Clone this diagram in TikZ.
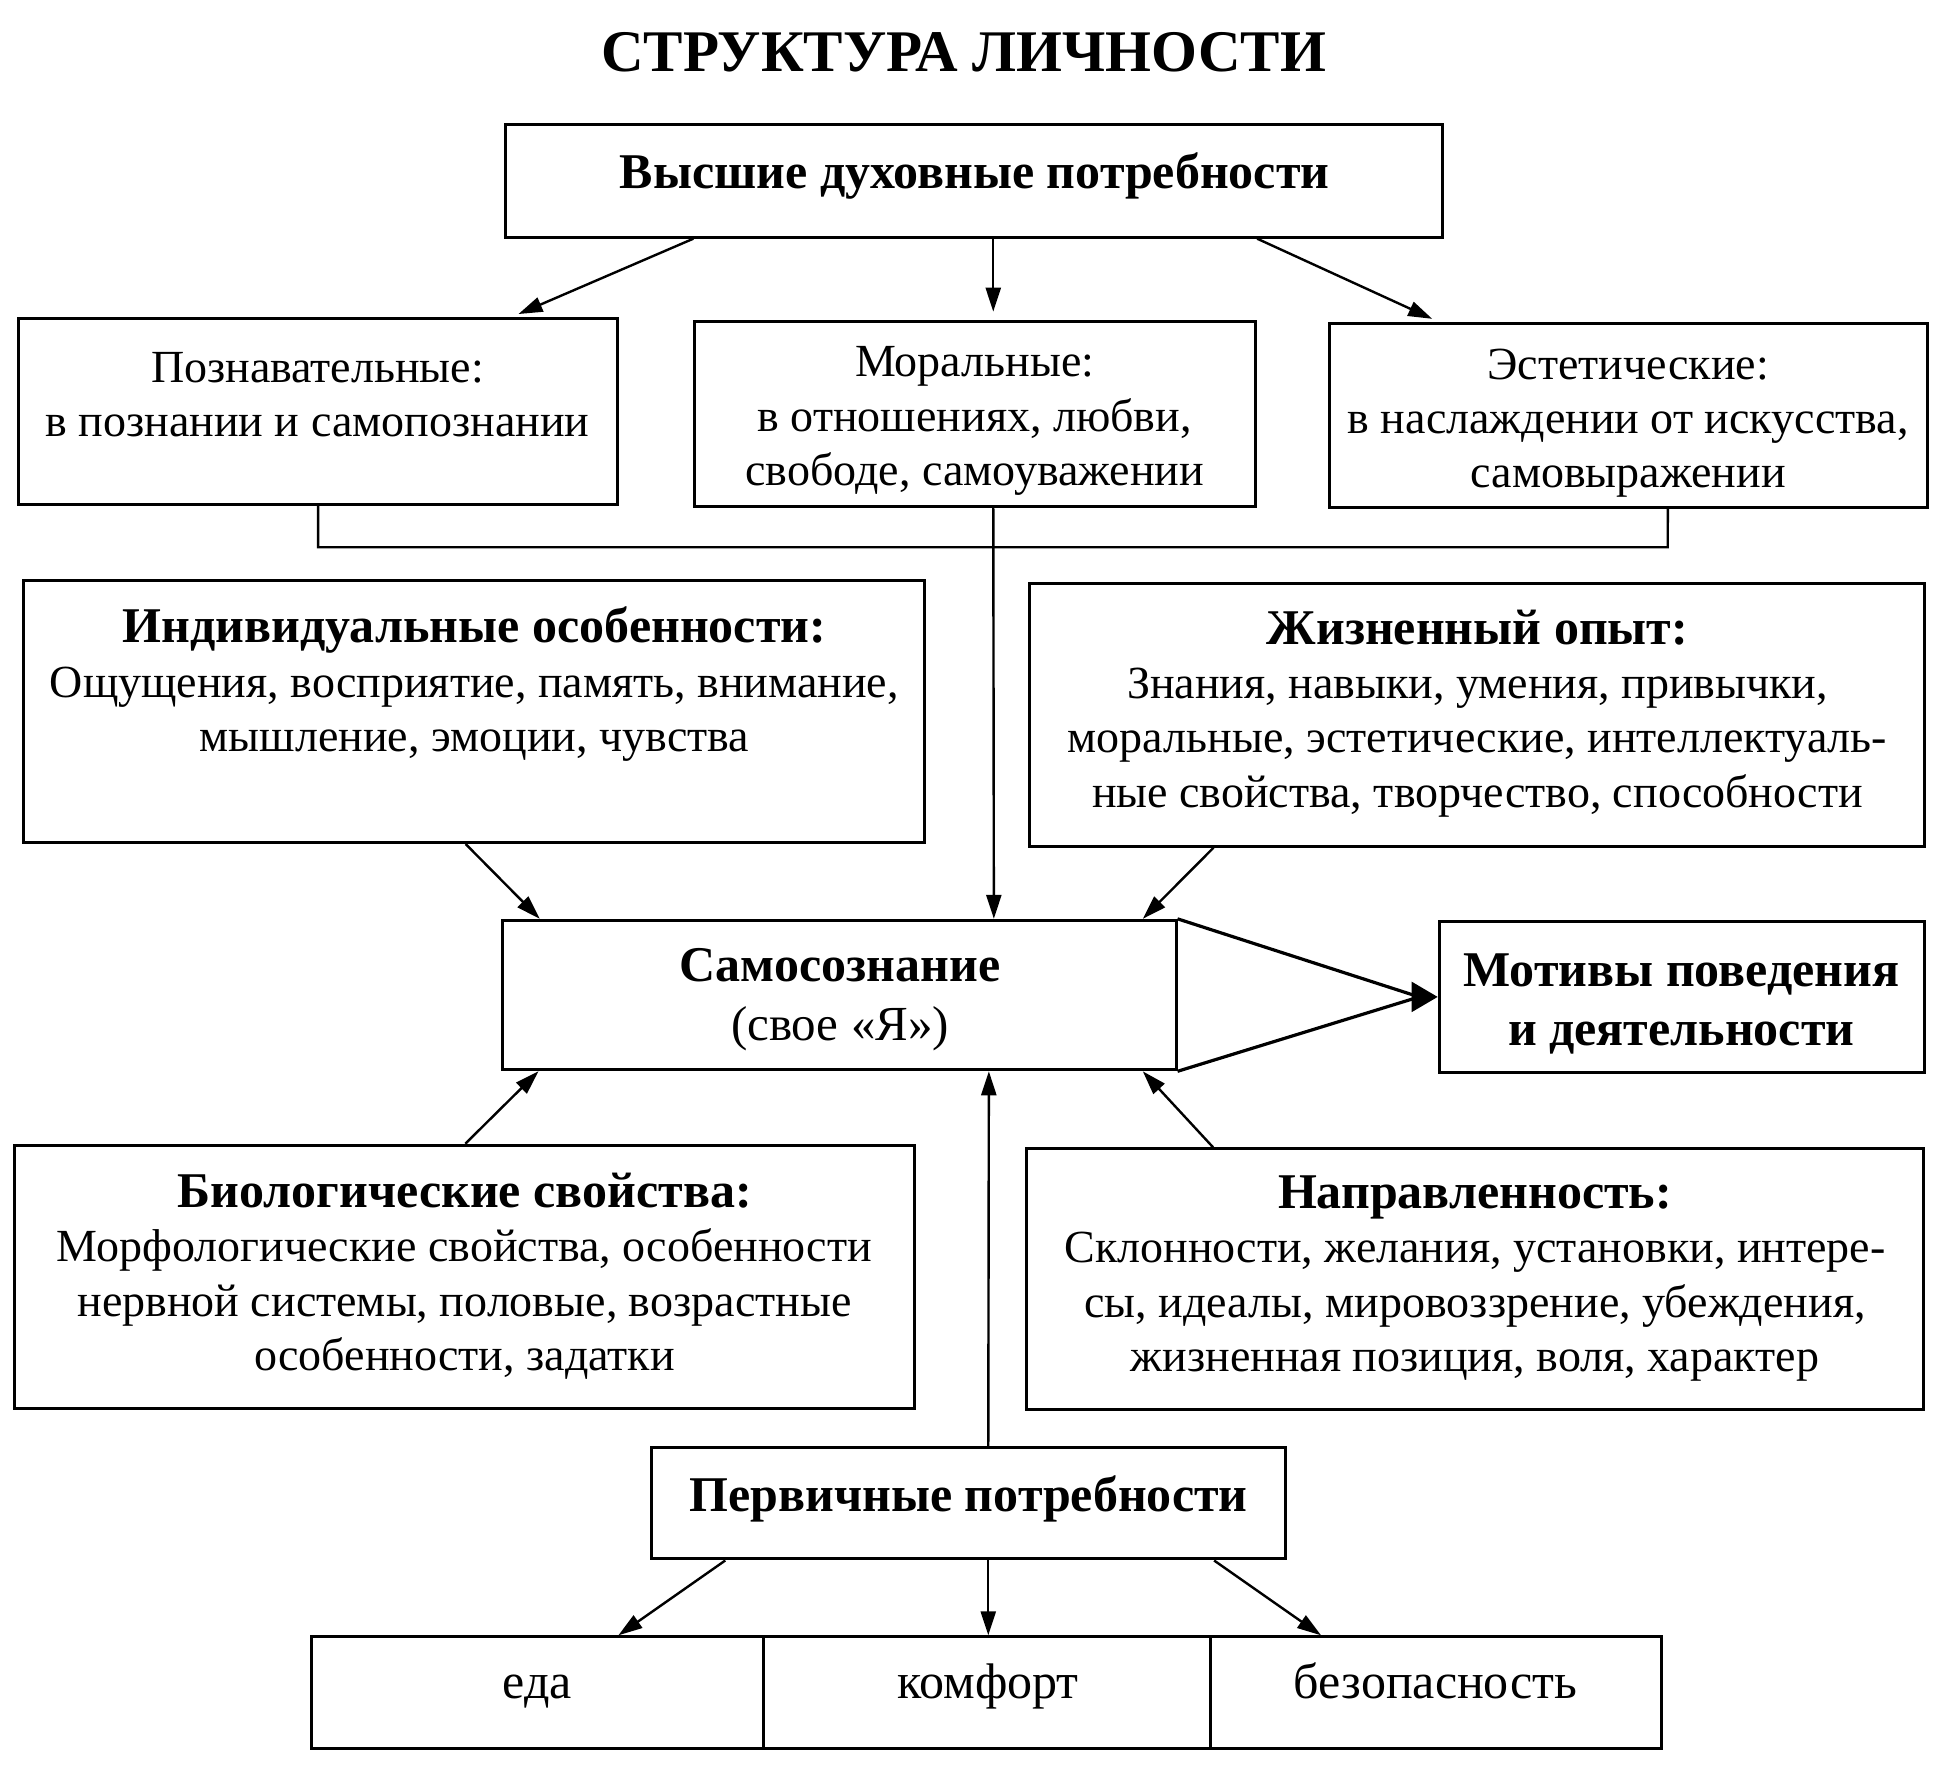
\documentclass[tikz,border=0pt]{standalone}
\usepackage{fontspec}
\setmainfont{Liberation Serif}
\usetikzlibrary{arrows.meta,calc,fit}
\newcommand{\hd}[1]{{\fontsize{25}{27.2}\selectfont\bfseries #1}}
\begin{document}
\begin{tikzpicture}[x=0.61765pt,y=-0.61765pt,
  box/.style={draw,line width=1.5pt,inner sep=0pt},
  txt/.style={align=center,font=\fontsize{23}{27.2}\selectfont,inner sep=0pt},
  one/.style={text height=17pt,text depth=5pt},
  arr/.style={line width=1.2pt,-{Triangle[length=12pt,width=7.5pt]}},
  lnk/.style={line width=1.2pt}
]
\useasboundingbox (0,0) rectangle (1568,1432);
% title
\node[font=\fontsize{29.5}{36}\selectfont\bfseries,inner sep=0pt,one,text height=22pt,text depth=0pt] (title) at (780,40) {СТРУКТУРА ЛИЧНОСТИ};
% boxes
\node[box,fit={(409,101) (1168,192)}] (hi) {};
\node[box,fit={(15,258) (500,408)}] (cog) {};
\node[box,fit={(562,260) (1016,410)}] (mor) {};
\node[box,fit={(1076,262) (1560,411)}] (aes) {};
\node[box,fit={(19,470) (748,682)}] (ind) {};
\node[box,fit={(833,472) (1558,685)}] (exp) {};
\node[box,fit={(407,745) (952,866)}] (self) {};
\node[box,fit={(1165,746) (1558,868)}] (mot) {};
\node[box,fit={(12,927) (740,1140)}] (bio) {};
\node[box,fit={(831,930) (1557,1141)}] (dir) {};
\node[box,fit={(527,1172) (1041,1262)}] (prim) {};
\node[box,fit={(252,1325) (618,1415)}] (food) {};
\node[box,fit={(618,1325) (980,1415)}] (comf) {};
\node[box,fit={(980,1325) (1345,1415)}] (safe) {};
% texts
\node[txt,one] (hit) at (789,142.5) {\hd{Высшие духовные потребности}};
\node[txt] (cogt) at (257,319.5) {Познавательные:\\в познании и самопознании};
\node[txt] (mort) at (789,341) {Моральные:\\в отношениях, любви,\\свободе, самоуважении};
\node[txt] (aest) at (1318,342.5) {Эстетические:\\в наслаждении от искусства,\\самовыражении};
\node[txt] (indt) at (384,554) {\hd{Индивидуальные особенности:}\\Ощущения, восприятие, память, внимание,\\мышление, эмоции, чувства};
\node[txt] (expt) at (1196,577.5) {\hd{Жизненный опыт:}\\Знания, навыки, умения, привычки,\\моральные, эстетические, интеллектуаль-\\ные свойства, творчество, способности};
\node[txt,font=\fontsize{24.5}{29.6}\selectfont] (selft) at (680,809.5) {\hd{Самосознание}\\(свое «Я»)};
\node[txt,font=\fontsize{25}{29.6}\selectfont\bfseries] (mott) at (1361,813) {Мотивы поведения\\и деятельности};
\node[txt] (biot) at (376,1033) {\hd{Биологические свойства:}\\Морфологические свойства, особенности\\нервной системы, половые, возрастные\\особенности, задатки};
\node[txt] (dirt) at (1194,1035) {\hd{Направленность:}\\Склонности, желания, установки, интере-\\сы, идеалы, мировоззрение, убеждения,\\жизненная позиция, воля, характер};
\node[txt,one] (primt) at (784,1214) {\hd{Первичные потребности}};
\node[txt,one,font=\fontsize{25}{29}\selectfont] (foodt) at (435,1365) {еда};
\node[txt,one,font=\fontsize{25}{29}\selectfont] (comft) at (800,1365) {комфорт};
\node[txt,one,font=\fontsize{25}{29}\selectfont] (safet) at (1162,1365) {безопасность};
% connectors
\draw[arr,shorten >=4pt] ($(hi.south west)!0.2016!(hi.south east)$) -- ($(cog.north west)!0.8206!(cog.north east)$);
\draw[arr,shorten >=4pt] ($(hi.south west)!0.5204!(hi.south east)$) coordinate (hm) -- (hm |- mor.north);
\draw[arr,shorten >=4pt] ($(hi.south west)!0.801!(hi.south east)$) -- ($(aes.north west)!0.186!(aes.north east)$);
\coordinate (busR) at (1350,443);
\draw[lnk] (cog.south) |- (busR) -- ($(aes.south west)!0.566!(aes.south east)$);
\draw[arr] ($(mor.south west)!0.533!(mor.south east)$) -- ($(self.north west)!0.7284!(self.north east)$);
\draw[arr] ($(ind.south west)!0.491!(ind.south east)$) -- ($(self.north west)!0.0569!(self.north east)$);
\draw[arr] ($(exp.south west)!0.207!(exp.south east)$) -- ($(self.north west)!0.9486!(self.north east)$);
\draw[arr] ($(bio.north west)!0.501!(bio.north east)$) -- ($(self.south west)!0.055!(self.south east)$);
\draw[arr] ($(prim.north west)!0.531!(prim.north east)$) -- ($(self.south west)!0.721!(self.south east)$);
\draw[arr] ($(dir.north west)!0.209!(dir.north east)$) -- ($(self.south west)!0.9486!(self.south east)$);
\draw[line width=1.6pt,line join=round] (self.north east) -- ($(mot.west)+(-15,0)$) -- (self.south east);
\draw[line width=1pt,-{Triangle[length=13pt,width=15pt]}] ($(mot.west)+(-20,0)$) -- (mot.west);
\draw[arr] ($(prim.south west)!0.1187!(prim.south east)$) -- ($(food.north west)!0.678!(food.north east)$);
\draw[arr] ($(prim.south west)!0.531!(prim.south east)$) coordinate (pm) -- (pm |- comf.north);
\draw[arr] ($(prim.south west)!0.885!(prim.south east)$) -- ($(safe.north west)!0.2466!(safe.north east)$);
\end{tikzpicture}
\end{document}
